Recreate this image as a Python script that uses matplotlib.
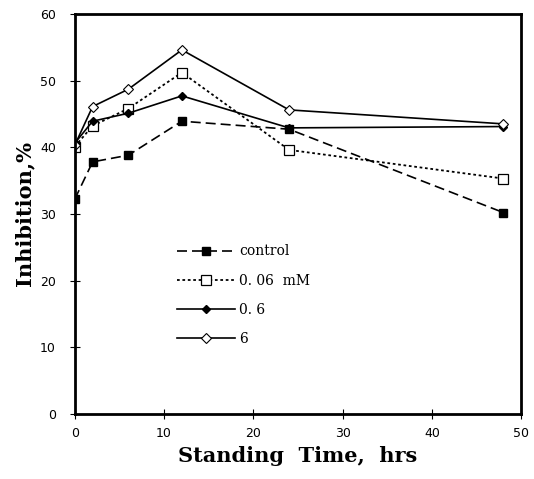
import matplotlib.pyplot as plt

# standing time (hrs) and % inhibition
hours = [0, 2, 6, 12, 24, 48]
control = [32.2, 37.8, 38.8, 43.9, 42.7, 30.2]
mm_006 = [40.1, 43.2, 45.8, 51.2, 39.6, 35.3]
mm_06 = [40.6, 43.9, 45.1, 47.7, 42.9, 43.1]
mm_6 = [40.3, 46.1, 48.7, 54.6, 45.6, 43.5]

fig = plt.figure(figsize=(5.34, 4.79), dpi=100)
ax = fig.add_axes([0.140, 0.136, 0.836, 0.835])

ax.plot(hours, control, color='black', ls=(0, (6, 3)), lw=1.2, marker='s', ms=6,
        mfc='black', mec='black', label='control')
ax.plot(hours, mm_006, color='black', ls=(0, (1.5, 1.5)), lw=1.3, marker='s', ms=7,
        mfc='white', mec='black', mew=0.9, label='0. 06  mM')
ax.plot(hours, mm_06, color='black', ls='-', lw=1.2, marker='D', ms=4.5,
        mfc='black', mec='black', label='0. 6')
ax.plot(hours, mm_6, color='black', ls='-', lw=1.2, marker='D', ms=5,
        mfc='white', mec='black', mew=0.8, label='6')

ax.set_xlim(0, 50)
ax.set_ylim(0, 60)
ax.set_xticks([0, 10, 20, 30, 40, 50])
ax.set_yticks([0, 10, 20, 30, 40, 50, 60])
ax.tick_params(direction='inout', length=7, width=0.8, labelsize=9)
ax.tick_params(axis='x', pad=6)
ax.tick_params(axis='y', pad=10)
for s in ax.spines.values():
    s.set_linewidth(2)

ax.set_xlabel('Standing  Time,  hrs', fontsize=15, fontweight='bold',
              family='DejaVu Serif', labelpad=4)
ax.set_ylabel('Inhibition,%', fontsize=15, fontweight='bold',
              family='DejaVu Serif', labelpad=4)

leg = ax.legend(loc='upper left', bbox_to_anchor=(0.2, 0.455), frameon=False,
                handlelength=4.2, labelspacing=1.1, handletextpad=0.3,
                prop={'family': 'DejaVu Serif', 'size': 10})

fig.savefig('out.png', dpi=100)
